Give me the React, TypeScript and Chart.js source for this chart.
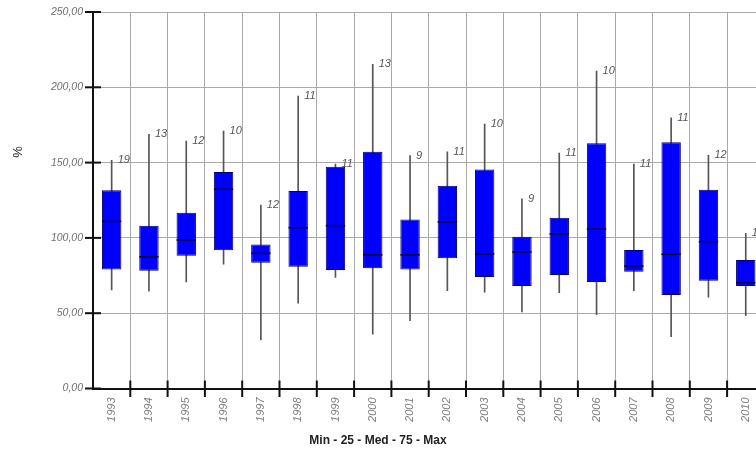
import React, { useEffect, useRef } from "react";
import { Chart, registerables } from "chart.js";

Chart.register(...registerables);

const years = ["1993", "1994", "1995", "1996", "1997", "1998", "1999", "2000", "2001", "2002", "2003", "2004", "2005", "2006", "2007", "2008", "2009", "2010"];
const minVals = [65.4, 64.7, 70.7, 82.5, 32.2, 56.6, 73.8, 36.0, 45.0, 65.0, 63.9, 50.8, 63.6, 49.0, 65.0, 34.4, 60.6, 48.3];
const q1Vals = [79.1, 78.2, 88.2, 91.8, 83.5, 80.9, 78.7, 79.8, 79.1, 86.5, 74.0, 68.0, 75.4, 70.7, 77.6, 62.1, 71.6, 68.0];
const medianVals = [111.0, 87.5, 98.6, 132.3, 89.8, 106.8, 108.1, 88.8, 88.8, 110.6, 89.3, 90.6, 102.6, 105.9, 81.3, 89.1, 97.5, 70.3];
const q3Vals = [131.6, 108.1, 116.7, 143.8, 95.7, 131.1, 147.3, 157.2, 112.3, 134.7, 145.5, 100.8, 113.4, 162.8, 92.0, 163.5, 132.0, 85.3];
const maxVals = [151.5, 168.8, 164.3, 171.0, 121.8, 194.2, 149.0, 215.3, 154.6, 157.2, 175.6, 126.0, 156.4, 210.8, 149.0, 179.8, 154.8, 103.0];
const counts = ["19", "13", "12", "10", "12", "11", "11", "13", "9", "11", "10", "9", "11", "10", "11", "11", "12", "11"];
const yTickValues = [0, 50, 100, 150, 200, 250];
const xTitle = "Min - 25 - Med - 75 - Max";
const yTitle = "%";

const FONT = "'Liberation Sans', Arial, sans-serif";

const boxPlugin = {
  id: "boxExtras",
  afterDatasetsDraw(chart: any) {
    const ctx = chart.ctx;
    const xs = chart.scales.x;
    const ys = chart.scales.y;
    const meta = chart.getDatasetMeta(1);
    ctx.save();
    meta.data.forEach((bar: any, i: number) => {
      const w = bar.width;
      const y = ys.getPixelForValue(medianVals[i]);
      ctx.strokeStyle = "#00004a";
      ctx.lineWidth = 1.6;
      ctx.beginPath();
      ctx.moveTo(bar.x - w / 2, y);
      ctx.lineTo(bar.x + w / 2, y);
      ctx.stroke();
    });
    ctx.fillStyle = "#555";
    ctx.font = `italic 11px ${FONT}`;
    ctx.textAlign = "left";
    ctx.textBaseline = "middle";
    years.forEach((_, i) => {
      const x = xs.getPixelForValue(i);
      const y = ys.getPixelForValue(maxVals[i]);
      ctx.fillText(counts[i], x + 6, y);
    });
    ctx.restore();
  },
  afterDraw(chart: any) {
    const ctx = chart.ctx;
    const xs = chart.scales.x;
    const ys = chart.scales.y;
    const area = chart.chartArea;
    ctx.save();
    ctx.strokeStyle = "#111";
    ctx.lineWidth = 2;
    yTickValues.forEach((v) => {
      const y = ys.getPixelForValue(v);
      ctx.beginPath();
      ctx.moveTo(area.left - 8, y);
      ctx.lineTo(area.left + 8, y);
      ctx.stroke();
    });
    for (let i = 0; i < years.length - 1; i++) {
      const x = (xs.getPixelForValue(i) + xs.getPixelForValue(i + 1)) / 2;
      ctx.beginPath();
      ctx.moveTo(x, area.bottom - 8);
      ctx.lineTo(x, area.bottom + 8.5);
      ctx.stroke();
    }
    ctx.fillStyle = "#222";
    ctx.font = `bold 12px ${FONT}`;
    ctx.textAlign = "center";
    ctx.textBaseline = "middle";
    ctx.fillText(xTitle, 378, 441);
    ctx.translate(18, 152);
    ctx.rotate(-Math.PI / 2);
    ctx.font = `13px ${FONT}`;
    ctx.fillText(yTitle, 0, 0);
    ctx.restore();
  },
};

export default function App() {
  const ref = useRef<HTMLCanvasElement>(null);
  useEffect(() => {
    if (!ref.current) return;
    const chart = new Chart(ref.current, {
      type: "bar",
      data: {
        labels: years,
        datasets: [
          {
            label: "whisker",
            data: years.map((_, i) => [minVals[i], maxVals[i]]),
            backgroundColor: "#555",
            borderWidth: 0,
            barThickness: 1,
            grouped: false,
            order: 2,
          } as any,
          {
            label: "box",
            data: years.map((_, i) => [q1Vals[i], q3Vals[i]]),
            backgroundColor: "#0000ff",
            borderColor: "#00006e",
            borderWidth: 1,
            borderSkipped: false,
            barPercentage: 1,
            categoryPercentage: 0.52,
            grouped: false,
            order: 1,
          } as any,
        ],
      },
      options: {
        responsive: false,
        animation: false,
        layout: { padding: { top: 12, right: 5.6, left: 0, bottom: 0 } },
        plugins: { legend: { display: false }, tooltip: { enabled: false } },
        scales: {
          x: {
            offset: true,
            grid: { offset: true, color: "#aaa", lineWidth: 1, drawTicks: false },
            border: { color: "#111", width: 2 },
            ticks: {
              minRotation: 90,
              maxRotation: 90,
              padding: 9,
              color: "#808080",
              font: { family: FONT, size: 11, style: "italic" },
            },
            afterFit: (s: any) => {
              s.height = 62.5;
              s.paddingLeft = 0;
              s.paddingRight = 0;
            },
          },
          y: {
            min: 0,
            max: 250,
            grid: { color: "#aaa", lineWidth: 1, drawTicks: false },
            border: { color: "#111", width: 2 },
            ticks: {
              stepSize: 50,
              padding: 10,
              color: "#707070",
              font: { family: FONT, size: 10.5, style: "italic" },
              callback: (v: any) => Number(v).toFixed(2).replace(".", ","),
            },
            afterFit: (s: any) => {
              s.width = 93;
              s.paddingTop = 0;
              s.paddingBottom = 0;
            },
          },
        },
      },
      plugins: [boxPlugin],
    });
    return () => chart.destroy();
  }, []);
  return (
    <div style={{ position: "absolute", left: 0, top: 0, width: 756, height: 451, overflow: "hidden", background: "#fff" }}>
      <canvas ref={ref} width={770} height={451} style={{ display: "block", width: 770, height: 451 }} />
    </div>
  );
}
